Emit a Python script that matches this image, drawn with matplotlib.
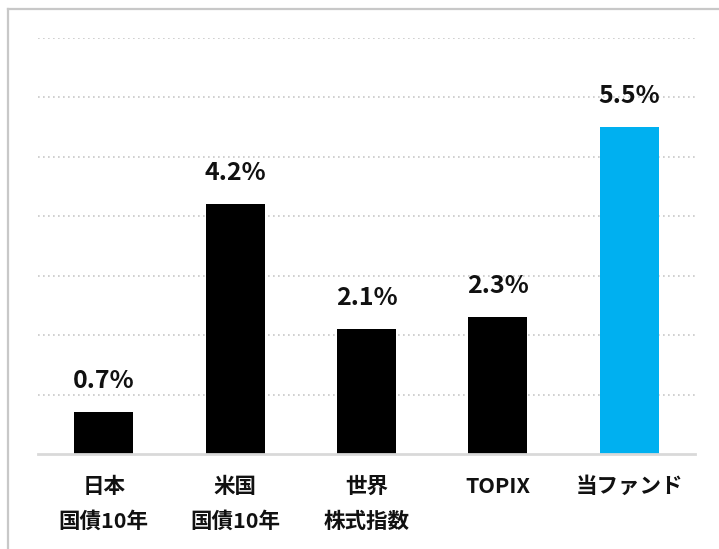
import matplotlib
matplotlib.use("Agg")
import matplotlib.pyplot as plt
from matplotlib.lines import Line2D

plt.rcParams['font.family'] = ['Noto Sans CJK JP', 'DejaVu Sans']

# data
categories = ["日本\n国債10年", "米国\n国債10年", "世界\n株式指数", "TOPIX", "当ファンド"]
values = [0.7, 4.2, 2.1, 2.3, 5.5]
bar_colors = ["#000000", "#000000", "#000000", "#000000", "#00B0F0"]

fig = plt.figure(figsize=(7.19, 5.49), dpi=100)
ax = fig.add_axes([38 / 719, 95 / 549, 657 / 719, 416 / 549])

x = range(len(categories))
bars = ax.bar(x, values, width=0.45, color=bar_colors, zorder=3)

for b, v in zip(bars, values):
    ax.annotate(f"{v:.1f}%", xy=(b.get_x() + b.get_width() / 2, v),
                xytext=(0, 14), textcoords="offset points",
                ha="center", va="bottom", fontsize=18, fontweight="bold",
                color="#111111")

ax.set_xlim(-0.5, len(categories) - 0.5)
ax.set_ylim(0, 7)
ax.set_yticks(range(1, 8))
ax.yaxis.grid(True, linestyle=(0, (1, 2)), color="#c8c8c8", linewidth=1.2, zorder=0)
ax.tick_params(axis="y", left=False, labelleft=False)
ax.tick_params(axis="x", bottom=False, pad=12)
ax.set_xticks(list(x))
ax.set_xticklabels(categories, fontsize=15.5, fontweight="bold", linespacing=1.85,
                   color="#111111")
for s in ["top", "right", "left"]:
    ax.spines[s].set_visible(False)
ax.spines["bottom"].set_color("#d9d9d9")
ax.spines["bottom"].set_linewidth(2)
ax.spines["bottom"].set_zorder(4)

# outer frame (only top and left edges visible)
fig.add_artist(Line2D([8 / 719, 1], [1 - 9 / 549, 1 - 9 / 549], transform=fig.transFigure,
                      color="#c8c8c8", linewidth=1.6))
fig.add_artist(Line2D([8 / 719, 8 / 719], [0, 1 - 9 / 549], transform=fig.transFigure,
                      color="#c8c8c8", linewidth=1.6))

fig.savefig("out.png", dpi=100)
